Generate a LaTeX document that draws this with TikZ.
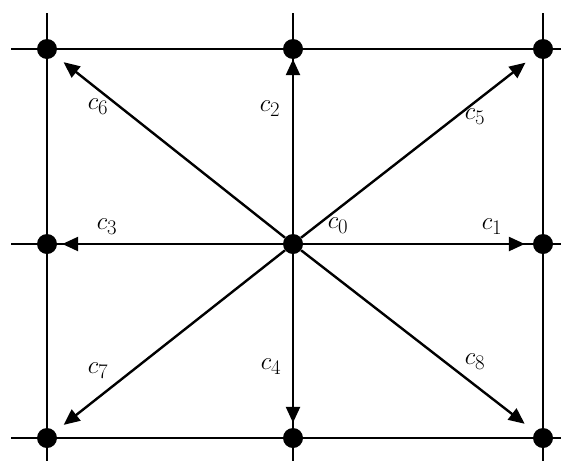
\documentclass[tikz,border=0pt]{standalone}
\usetikzlibrary{arrows.meta}
\begin{document}
\begin{tikzpicture}[x=1pt,y=-1pt,
  dot/.style={circle,fill=black,inner sep=0pt,minimum size=20pt},
  gridline/.style={line width=1.6pt},
  vec/.style={line width=2.4pt,-{Triangle[length=16pt,width=14pt]}},
  lab/.style={inner sep=0pt,font=\fontsize{30}{32}\selectfont}]
\useasboundingbox (0,0) rectangle (561,461);
% grid lines
\draw[gridline] (11,49) -- (561,49);
\draw[gridline] (11,244) -- (561,244);
\draw[gridline] (11,438) -- (561,438);
\draw[gridline] (47,13) -- (47,461);
\draw[gridline] (293,13) -- (293,461);
\draw[gridline] (543,13) -- (543,461);
% dots
\node[dot] (tl) at (47,49) {};
\node[dot] (tm) at (293,49) {};
\node[dot] (tr) at (543,49) {};
\node[dot] (ml) at (47,244) {};
\node[dot] (c) at (293,244) {};
\node[dot] (mr) at (543,244) {};
\node[dot] (bl) at (47,438) {};
\node[dot] (bm) at (293,438) {};
\node[dot] (br) at (543,438) {};
% vectors
\draw[vec,shorten >=8pt] (c) -- (mr);
\draw[vec,shorten >=0pt] (c) -- (tm);
\draw[vec,shorten >=5pt] (c) -- (ml);
\draw[vec,shorten >=5pt] (c) -- (bm);
\draw[vec,shorten >=12pt] (c) -- (tr);
\draw[vec,shorten >=11pt] (c) -- (tl);
\draw[vec,shorten >=11pt] (c) -- (bl);
\draw[vec,shorten >=13pt] (c) -- (br);
% labels
\node[lab] (l0) at (338,226) {$c_0$};
\node[lab] (l1) at (492,227) {$c_1$};
\node[lab] (l2) at (270,109) {$c_2$};
\node[lab] (l3) at (107,227) {$c_3$};
\node[lab] (l4) at (271,367) {$c_4$};
\node[lab] (l5) at (475,117) {$c_5$};
\node[lab] (l6) at (98,107) {$c_6$};
\node[lab] (l7) at (98,371) {$c_7$};
\node[lab] (l8) at (475,362) {$c_8$};
\end{tikzpicture}
\end{document}
